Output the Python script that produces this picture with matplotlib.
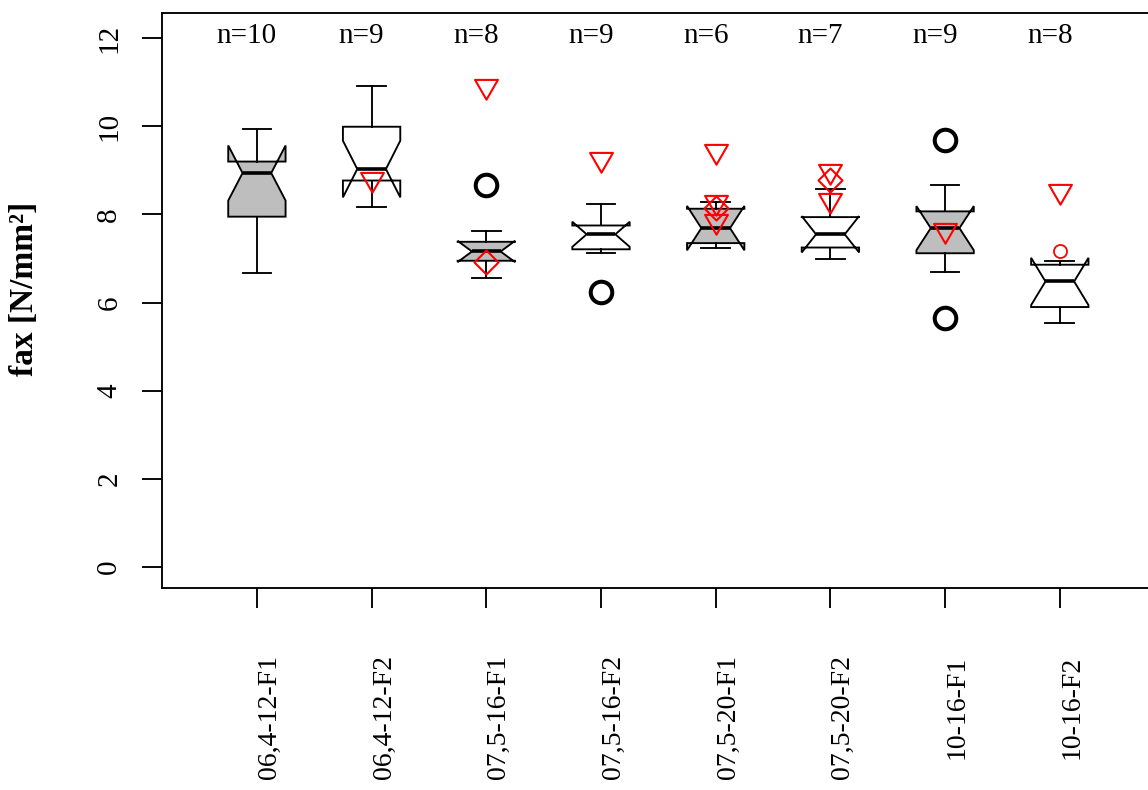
import numpy as np
import matplotlib
matplotlib.use("Agg")
import matplotlib.pyplot as plt
import matplotlib.transforms as mtransforms
from matplotlib.path import Path

# Groups and their summary statistics (fax in N/mm²)
groups = ["06,4-12-F1", "06,4-12-F2", "07,5-16-F1", "07,5-16-F2",
          "07,5-20-F1", "07,5-20-F2", "10-16-F1", "10-16-F2"]
n_obs = [10, 9, 8, 9, 6, 7, 9, 8]
whisker_low = [6.67, 8.18, 6.55, 7.12, 7.24, 6.99, 6.70, 5.53]
quart_low = [7.95, 8.77, 6.95, 7.21, 7.35, 7.25, 7.12, 5.90]
median = [8.94, 9.03, 7.16, 7.55, 7.69, 7.55, 7.69, 6.48]
quart_high = [9.20, 9.99, 7.38, 7.75, 8.13, 7.94, 8.07, 6.86]
whisker_high = [9.93, 10.92, 7.63, 8.23, 8.28, 8.58, 8.66, 6.95]
outliers = [[], [], [8.67], [6.24], [], [], [9.69, 5.65], []]
shaded = [True, False, True, False, True, False, True, False]

# Additional reference values (group number, value)
tri_group = [2, 3, 4, 5, 5, 5, 6, 6, 7, 8]
tri_value = [8.81, 10.91, 9.25, 9.45, 8.28, 7.86, 8.99, 8.33, 7.65, 8.53]
dia_group = [3, 5, 6]
dia_value = [6.92, 8.14, 8.78]
ring_group = [8]
ring_value = [7.16]

y_ticks = [0, 2, 4, 6, 8, 10, 12]

SERIF = ["Liberation Serif", "DejaVu Serif"]
plt.rcParams["font.family"] = SERIF
plt.rcParams["font.serif"] = ["Liberation Serif", "DejaVu Serif"]
FS = 20
LW = 1.35

W, H = 1148, 790
fig = plt.figure(figsize=(W / 100, H / 100), dpi=100)
left_px, right_px, top_px, bottom_px = 161.7, 1155.0, 13.0, 588.3
ax = fig.add_axes([left_px / W, 1 - bottom_px / H,
                   (right_px - left_px) / W, (bottom_px - top_px) / H])

positions = np.arange(1, len(groups) + 1)
stats = []
for i in range(len(groups)):
    iqr = quart_high[i] - quart_low[i]
    half = 1.58 * iqr / np.sqrt(n_obs[i])
    stats.append(dict(med=median[i], q1=quart_low[i], q3=quart_high[i],
                      whislo=whisker_low[i], whishi=whisker_high[i],
                      cilo=median[i] - half, cihi=median[i] + half,
                      fliers=outliers[i], label=groups[i]))

bp = ax.bxp(stats, positions=positions, widths=0.5, shownotches=True,
            patch_artist=True, manage_ticks=False,
            boxprops=dict(linewidth=LW, edgecolor="black", joinstyle="miter"),
            medianprops=dict(color="black", linewidth=2.6, solid_capstyle="butt"),
            whiskerprops=dict(color="black", linewidth=LW),
            capprops=dict(color="black", linewidth=LW),
            flierprops=dict(marker="o", markerfacecolor="none",
                            markeredgecolor="black", markersize=15.5,
                            markeredgewidth=2.9))
for patch, sh in zip(bp["boxes"], shaded):
    patch.set_facecolor("#BEBEBE" if sh else "white")

# Red reference markers
tri_down = Path([(0, -1), (-0.866, 0.5), (0.866, 0.5), (0, -1)], closed=True)
diamond = Path([(0, 1), (1, 0), (0, -1), (-1, 0), (0, 1)], closed=True)
ax.plot(tri_group, tri_value, ls="none", marker=tri_down, markersize=19,
        markerfacecolor="none", markeredgecolor="red", markeredgewidth=1.5,
        zorder=5)
ax.plot(dia_group, dia_value, ls="none", marker=diamond, markersize=17.3,
        markerfacecolor="none", markeredgecolor="red", markeredgewidth=1.5,
        zorder=5)
ax.plot(ring_group, ring_value, ls="none", marker="o", markersize=9.4,
        markerfacecolor="none", markeredgecolor="red", markeredgewidth=1.3,
        zorder=5)

ax.set_xlim(0.17, 8.83)
ax.set_ylim(-0.48, 12.57)

for side in ["top", "left", "bottom", "right"]:
    ax.spines[side].set_linewidth(LW)

ax.set_xticks(positions)
ax.set_xticklabels([])
ax.set_yticks(y_ticks)
ax.set_yticklabels([str(v) for v in y_ticks])
ax.tick_params(axis="both", direction="out", length=14.4, width=LW,
               color="black")
ax.tick_params(axis="y", pad=14, labelsize=21, labelrotation=90,
               labelfontfamily="Liberation Serif")
for lab in ax.get_yticklabels():
    lab.set_verticalalignment("center")

# Group names below the axis, read bottom-to-top
name_tr = mtransforms.offset_copy(
    mtransforms.blended_transform_factory(ax.transData, ax.transAxes),
    fig=fig, x=19, y=-67, units="dots")
for p, g in zip(positions, groups):
    ax.text(p, 0, g, transform=name_tr, rotation=90, rotation_mode="anchor",
            ha="right", va="baseline", fontsize=FS, family=SERIF,
            clip_on=False)

# Sample sizes along the top
n_tr = mtransforms.offset_copy(ax.transData, fig=fig, x=-10, y=0,
                               units="dots")
for p, n in zip(positions, n_obs):
    ax.text(p, 11.88, f"n={n}", transform=n_tr, ha="center", va="baseline",
            fontsize=21, family=SERIF)

ax.text(-0.1296, 0.52, "fax [N/mm²]", transform=ax.transAxes, rotation=90,
        rotation_mode="anchor", ha="center", va="baseline", fontsize=24,
        fontweight="bold", family=SERIF)

fig.savefig("out.png", dpi=100)
